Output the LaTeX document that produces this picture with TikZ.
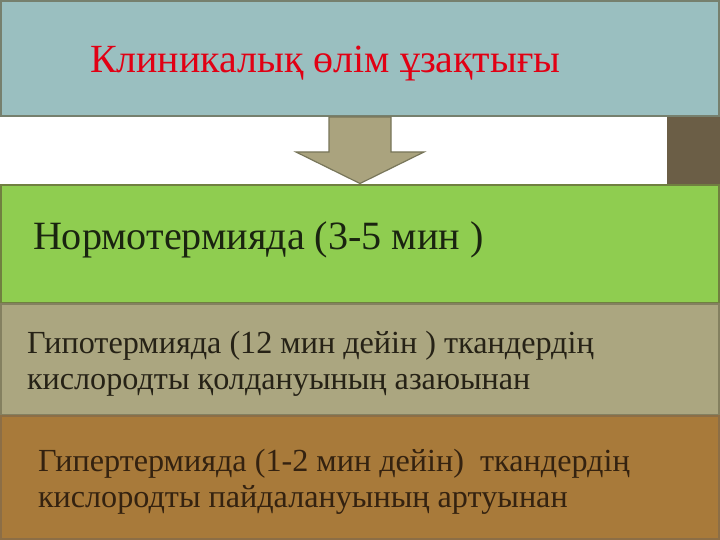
\documentclass[tikz,border=0pt]{standalone}
\usepackage{fontspec}
\setmainfont{Liberation Serif}
\definecolor{topfill}{RGB}{154,191,192}
\definecolor{topline}{RGB}{118,128,110}
\definecolor{greenfill}{RGB}{143,205,80}
\definecolor{greenline}{RGB}{112,128,64}
\definecolor{khakifill}{RGB}{171,166,128}
\definecolor{khakiline}{RGB}{132,128,96}
\definecolor{brownfill}{RGB}{168,122,58}
\definecolor{brownline}{RGB}{140,110,70}
\definecolor{darkbrown}{RGB}{107,94,70}
\definecolor{arrowfill}{RGB}{170,163,126}
\definecolor{arrowline}{RGB}{120,118,90}
\definecolor{titlered}{RGB}{225,0,20}
\definecolor{txtgreen}{RGB}{26,36,16}
\definecolor{txtkhaki}{RGB}{38,34,22}
\definecolor{txtbrown}{RGB}{52,34,16}
\begin{document}
\begin{tikzpicture}[x=1bp,y=-1bp,
  band/.style={line width=2bp},
  lbl/.style={anchor=base west,inner sep=0pt,outer sep=0pt}]
\useasboundingbox (0,0) rectangle (720,540);
\fill[white] (0,0) rectangle (720,540);
% top box
\draw[band,fill=topfill,draw=topline] (1,1) rectangle (719,116);
% dark right block
\fill[darkbrown] (667,117) rectangle (720,184);
% arrow
\draw[fill=arrowfill,draw=arrowline,line width=1.2bp,line join=miter]
  (329,117) -- (391,117) -- (391,152) -- (424,152) -- (360,183.5) -- (296,152) -- (329,152) -- cycle;
% green box
\draw[band,fill=greenfill,draw=greenline] (1,185) rectangle (719,303);
% khaki box
\draw[band,fill=khakifill,draw=khakiline] (1,304) rectangle (719,415);
% brown box
\draw[band,fill=brownfill,draw=brownline] (1,416) rectangle (719,539);
% texts
\node[lbl,text=titlered,font=\fontsize{40.1}{45}\selectfont] (title) at (90,73) {Клиникалық өлім ұзақтығы};
\node[lbl,text=txtgreen,font=\fontsize{40.3}{46}\selectfont] (normo) at (33,250) {Нормотермияда (3-5 мин )};
\node[lbl,text=txtkhaki,font=\fontsize{32.3}{36}\selectfont] (hypoA) at (27,353) {Гипотермияда (12 мин дейін ) ткандердің};
\node[lbl,text=txtkhaki,font=\fontsize{32.3}{36}\selectfont] (hypoB) at (27,389) {кислородты қолдануының азаюынан};
\node[lbl,text=txtbrown,font=\fontsize{32.3}{36}\selectfont] (hyperA) at (38,471) {Гипертермияда (1-2 мин дейін)\ \ ткандердің};
\node[lbl,text=txtbrown,font=\fontsize{32.3}{36}\selectfont] (hyperB) at (38,507) {кислородты пайдалануының артуынан};
\end{tikzpicture}
\end{document}
